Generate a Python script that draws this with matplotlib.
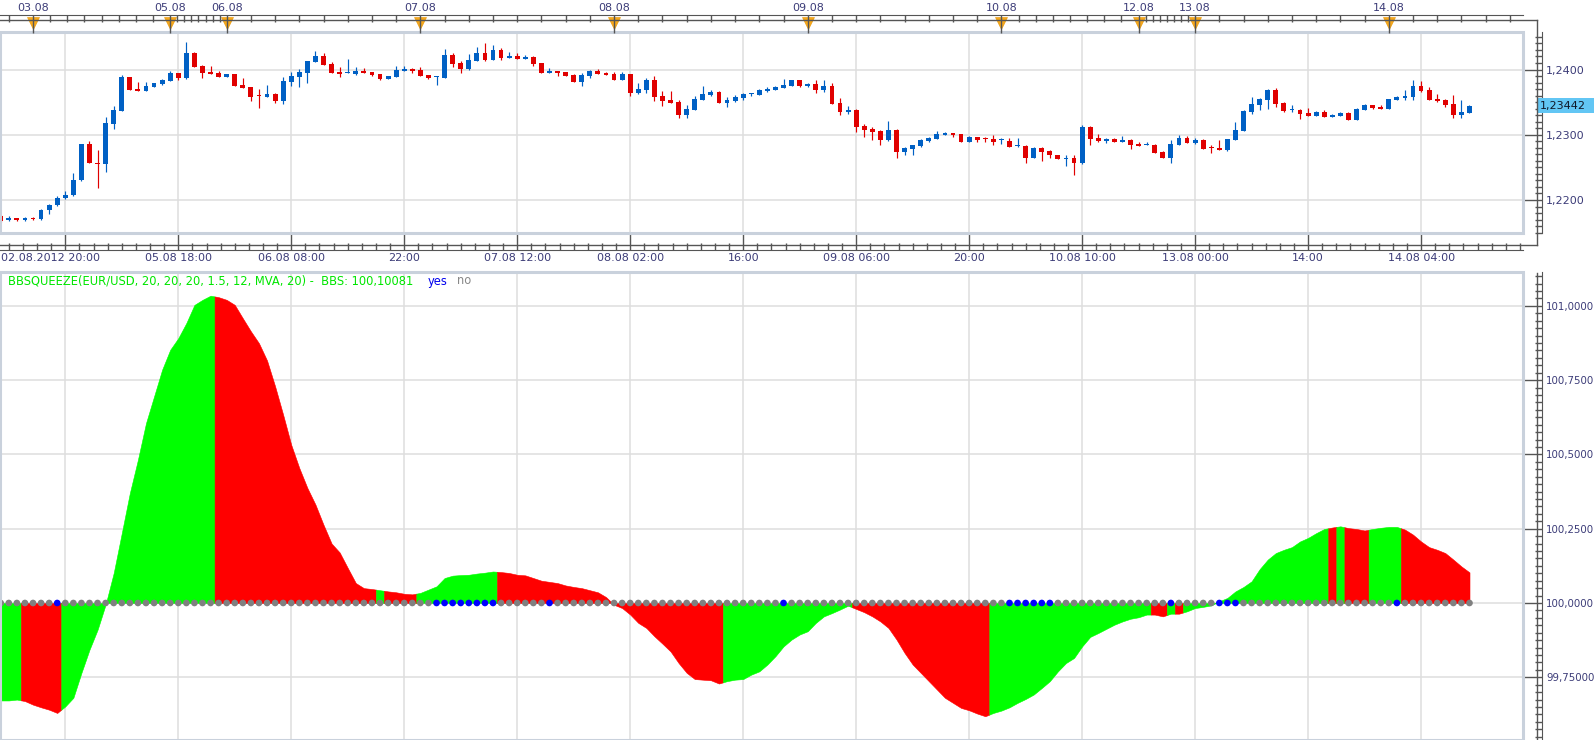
import numpy as np
import matplotlib
matplotlib.use("Agg")
import matplotlib.pyplot as plt
from matplotlib.patches import Rectangle
from matplotlib.lines import Line2D
from matplotlib.transforms import blended_transform_factory
from matplotlib.ticker import FixedLocator, MultipleLocator
from itertools import groupby

plt.rcParams['font.family'] = ['DejaVu Sans']

# ---------------- data ----------------
opens = [1.21754,1.21687,1.21718,1.21687,1.21728,1.21703,1.21841,1.21918,1.22026,1.22072,
1.22303,1.22851,1.22574,1.22549,1.23164,1.23364,1.23882,1.23697,1.23672,1.23733,
1.23779,1.23826,1.23944,1.23872,1.24251,1.24051,1.23959,1.23944,1.23887,1.23928,
1.23759,1.23728,1.23605,1.23579,1.23621,1.23518,1.23810,1.23882,1.23949,1.24118,
1.24205,1.24087,1.23959,1.23949,1.23933,1.23974,1.23959,1.23928,1.23856,1.23887,
1.23979,1.24005,1.23990,1.23913,1.23887,1.23872,1.24221,1.24097,1.24005,1.24133,
1.24251,1.24149,1.24297,1.24179,1.24205,1.24164,1.24190,1.24097,1.23949,1.23974,
1.23959,1.23913,1.23810,1.23903,1.23974,1.23944,1.23928,1.23841,1.23928,1.23641,
1.23687,1.23836,1.23590,1.23528,1.23497,1.23303,1.23379,1.23533,1.23605,1.23651,
1.23487,1.23513,1.23559,1.23626,1.23605,1.23667,1.23682,1.23713,1.23744,1.23836,
1.23744,1.23774,1.23682,1.23744,1.23482,1.23344,1.23374,1.23128,1.23082,1.23051,
1.22913,1.23067,1.22728,1.22774,1.22821,1.22897,1.22928,1.22990,1.23021,1.23005,
1.22882,1.22959,1.22949,1.22928,1.22913,1.22897,1.22821,1.22821,1.22651,1.22790,
1.22744,1.22697,1.22621,1.22651,1.22574,1.23113,1.22944,1.22897,1.22928,1.22882,
1.22913,1.22851,1.22836,1.22836,1.22728,1.22651,1.22836,1.22944,1.22867,1.22913,
1.22810,1.22790,1.22759,1.22913,1.23051,1.23344,1.23451,1.23528,1.23682,1.23482,
1.23374,1.23374,1.23328,1.23282,1.23344,1.23267,1.23282,1.23328,1.23221,1.23374,
1.23451,1.23421,1.23390,1.23528,1.23559,1.23574,1.23744,1.23682,1.23544,1.23528,
1.23467,1.23297,1.23328]

highs = [1.21774,1.21759,1.21728,1.21744,1.21744,1.21867,1.21933,1.22056,1.22144,1.22421,
1.22862,1.22897,1.22759,1.23267,1.23436,1.23913,1.23892,1.23805,1.23805,1.23790,
1.23862,1.23974,1.23949,1.24421,1.24262,1.24072,1.24051,1.23974,1.23928,1.23928,
1.23867,1.23728,1.23697,1.23759,1.23641,1.23887,1.23959,1.24005,1.24128,1.24282,
1.24246,1.24113,1.24036,1.24159,1.24036,1.24021,1.23959,1.23928,1.23897,1.24051,
1.24051,1.24021,1.24036,1.23923,1.23897,1.24313,1.24246,1.24128,1.24236,1.24344,
1.24400,1.24374,1.24328,1.24267,1.24251,1.24221,1.24205,1.24097,1.24021,1.23974,
1.23959,1.23928,1.23944,1.23990,1.24005,1.23959,1.23959,1.23959,1.23928,1.23790,
1.23867,1.23897,1.23667,1.23667,1.23528,1.23451,1.23590,1.23744,1.23682,1.23667,
1.23574,1.23605,1.23636,1.23636,1.23697,1.23728,1.23744,1.23851,1.23836,1.23836,
1.23790,1.23836,1.23836,1.23790,1.23559,1.23436,1.23390,1.23159,1.23113,1.23067,
1.23205,1.23082,1.22805,1.22836,1.22928,1.22959,1.23051,1.23036,1.23021,1.23005,
1.22974,1.22959,1.22959,1.22990,1.22944,1.22944,1.22944,1.22836,1.22805,1.22805,
1.22759,1.22697,1.22682,1.22697,1.23144,1.23128,1.23005,1.22944,1.22944,1.22974,
1.22928,1.22882,1.22882,1.22851,1.22744,1.22913,1.22990,1.22974,1.22944,1.22928,
1.22836,1.22913,1.22928,1.23190,1.23374,1.23574,1.23559,1.23697,1.23713,1.23497,
1.23451,1.23390,1.23405,1.23359,1.23374,1.23313,1.23344,1.23344,1.23405,1.23467,
1.23451,1.23451,1.23544,1.23590,1.23682,1.23836,1.23821,1.23728,1.23621,1.23544,
1.23605,1.23528,1.23451]

lows = [1.21656,1.21672,1.21682,1.21682,1.21692,1.21697,1.21779,1.21903,1.22021,1.22067,
1.22297,1.22564,1.22179,1.22426,1.23082,1.23359,1.23682,1.23667,1.23667,1.23733,
1.23764,1.23821,1.23841,1.23862,1.24036,1.23872,1.23933,1.23882,1.23887,1.23749,
1.23718,1.23518,1.23410,1.23579,1.23487,1.23472,1.23749,1.23733,1.23790,1.24113,
1.24062,1.23949,1.23887,1.23949,1.23918,1.23944,1.23903,1.23841,1.23856,1.23887,
1.23979,1.23949,1.23903,1.23856,1.23764,1.23872,1.24041,1.23949,1.23995,1.24133,
1.24133,1.24149,1.24149,1.24179,1.24159,1.24164,1.24056,1.23949,1.23949,1.23903,
1.23903,1.23810,1.23749,1.23872,1.23933,1.23918,1.23841,1.23841,1.23595,1.23626,
1.23641,1.23518,1.23441,1.23487,1.23256,1.23256,1.23379,1.23533,1.23595,1.23487,
1.23426,1.23497,1.23533,1.23595,1.23605,1.23651,1.23682,1.23713,1.23744,1.23728,
1.23728,1.23636,1.23651,1.23467,1.23297,1.23313,1.23036,1.22959,1.22913,1.22836,
1.22897,1.22636,1.22682,1.22697,1.22805,1.22882,1.22928,1.22990,1.22959,1.22882,
1.22882,1.22882,1.22882,1.22836,1.22851,1.22805,1.22805,1.22574,1.22651,1.22590,
1.22636,1.22621,1.22528,1.22390,1.22559,1.22836,1.22882,1.22867,1.22882,1.22882,
1.22774,1.22821,1.22836,1.22713,1.22651,1.22574,1.22836,1.22867,1.22851,1.22774,
1.22713,1.22759,1.22744,1.22913,1.23051,1.23313,1.23374,1.23390,1.23421,1.23344,
1.23344,1.23236,1.23282,1.23282,1.23267,1.23267,1.23282,1.23221,1.23221,1.23374,
1.23390,1.23390,1.23390,1.23528,1.23528,1.23528,1.23651,1.23528,1.23497,1.23421,
1.23251,1.23251,1.23328]

closes = [1.21682,1.21718,1.21687,1.21728,1.21703,1.21851,1.21928,1.22036,1.22082,1.22313,
1.22851,1.22564,1.22549,1.23174,1.23374,1.23882,1.23687,1.23672,1.23744,1.23790,
1.23836,1.23944,1.23872,1.24251,1.24041,1.23949,1.23933,1.23887,1.23928,1.23749,
1.23718,1.23579,1.23595,1.23621,1.23518,1.23821,1.23897,1.23959,1.24128,1.24205,
1.24067,1.23949,1.23933,1.23959,1.23974,1.23949,1.23918,1.23851,1.23897,1.23990,
1.24005,1.23974,1.23903,1.23872,1.23897,1.24221,1.24087,1.24010,1.24144,1.24251,
1.24149,1.24297,1.24179,1.24205,1.24164,1.24190,1.24087,1.23949,1.23974,1.23949,
1.23903,1.23810,1.23913,1.23974,1.23933,1.23918,1.23841,1.23928,1.23641,1.23697,
1.23836,1.23579,1.23518,1.23487,1.23303,1.23390,1.23544,1.23621,1.23651,1.23487,
1.23533,1.23574,1.23621,1.23636,1.23682,1.23697,1.23728,1.23759,1.23836,1.23744,
1.23774,1.23682,1.23744,1.23467,1.23344,1.23374,1.23113,1.23067,1.23036,1.22913,
1.23067,1.22728,1.22790,1.22836,1.22913,1.22944,1.23005,1.23021,1.22990,1.22882,
1.22959,1.22913,1.22928,1.22882,1.22928,1.22805,1.22836,1.22651,1.22790,1.22728,
1.22682,1.22621,1.22651,1.22574,1.23113,1.22928,1.22897,1.22928,1.22882,1.22913,
1.22836,1.22821,1.22851,1.22713,1.22651,1.22851,1.22944,1.22867,1.22913,1.22774,
1.22795,1.22759,1.22928,1.23067,1.23359,1.23467,1.23544,1.23682,1.23467,1.23359,
1.23390,1.23313,1.23282,1.23344,1.23267,1.23297,1.23328,1.23221,1.23390,1.23451,
1.23405,1.23390,1.23544,1.23574,1.23590,1.23744,1.23667,1.23528,1.23513,1.23451,
1.23297,1.23344,1.23442]

bbs = [99.672,99.672,99.675,99.670,99.658,99.649,99.641,99.630,99.652,99.681,
99.765,99.843,99.910,99.995,100.101,100.235,100.370,100.482,100.605,100.695,
100.785,100.852,100.891,100.942,101.003,101.020,101.034,101.029,101.020,101.003,
100.958,100.914,100.874,100.816,100.729,100.633,100.532,100.454,100.387,100.331,
100.263,100.200,100.170,100.118,100.067,100.050,100.047,100.043,100.039,100.036,
100.031,100.029,100.034,100.045,100.056,100.084,100.092,100.094,100.095,100.099,
100.102,100.106,100.104,100.101,100.095,100.093,100.084,100.075,100.071,100.067,
100.059,100.054,100.050,100.043,100.036,100.020,99.994,99.983,99.961,99.933,
99.916,99.888,99.863,99.837,99.798,99.765,99.744,99.742,99.740,99.729,
99.737,99.742,99.744,99.759,99.770,99.793,99.821,99.854,99.877,99.894,
99.905,99.933,99.955,99.966,99.978,99.991,99.980,99.969,99.955,99.938,
99.916,99.877,99.832,99.793,99.765,99.737,99.709,99.681,99.664,99.647,
99.639,99.628,99.619,99.630,99.638,99.649,99.664,99.677,99.692,99.714,
99.737,99.770,99.798,99.815,99.854,99.886,99.899,99.913,99.927,99.938,
99.947,99.952,99.961,99.961,99.955,99.964,99.964,99.972,99.983,99.987,
99.992,100.006,100.017,100.039,100.054,100.073,100.114,100.146,100.168,100.179,
100.188,100.207,100.219,100.235,100.249,100.254,100.258,100.252,100.249,100.244,
100.249,100.253,100.256,100.256,100.247,100.230,100.207,100.188,100.179,100.168,
100.146,100.123,100.103]

# momentum colour per bar: G = rising (green), R = falling (red)
momentum = ("GGG" "RRRRR" "GGGGGGGGGGGGGGGGGGG" "RRRRRRRRRRRRRRRRRRRR" "G" "RRRR"
            "GGGGGGGGGG" "RRRRRRRRRRRRRRRRRRRRRRRRRRRR" "GGGGGGGGGGGGGGGG"
            "RRRRRRRRRRRRRRRRR" "GGGGGGGGGGGGGGGGGGGG" "RR" "G" "R"
            "GGGGGGGGGGGGGGGGGG" "R" "G" "RRR" "GGGG" "RRRRRRRRR")

# bars where the squeeze is "yes" (blue dot)
squeeze_on = [7, 54, 55, 56, 57, 58, 59, 60, 61, 68, 97,
              125, 126, 127, 128, 129, 130, 145, 151, 152, 153, 173]

time_label_idx = [8, 22, 36, 50, 64, 78, 92, 106, 120, 134, 148, 162, 176]
time_labels = ["02.08.2012 20:00", "05.08 18:00", "06.08 08:00", "22:00",
               "07.08 12:00", "08.08 02:00", "16:00", "09.08 06:00", "20:00",
               "10.08 10:00", "13.08 00:00", "14:00", "14.08 04:00"]
day_idx = [4, 21, 28, 52, 76, 100, 124, 141, 148, 172]
day_labels = ["03.08", "05.08", "06.08", "07.08", "08.08", "09.08",
              "10.08", "12.08", "13.08", "14.08"]

price_ticks = [1.22, 1.23, 1.24]
price_tick_labels = ["1,2200", "1,2300", "1,2400"]
bbs_ticks = [99.75, 100.0, 100.25, 100.5, 100.75, 101.0]
bbs_tick_labels = ["99,75000", "100,0000", "100,2500", "100,5000", "100,7500", "101,0000"]
last_price = 1.23442
last_price_label = "1,23442"
indicator_title = "BBSQUEEZE(EUR/USD, 20, 20, 20, 1.5, 12, MVA, 20) -  BBS: 100,10081"

# ---------------- style ----------------
BLUE = '#0060c4'
RED = '#e00000'
GREEN_FILL = '#00ff00'
RED_FILL = '#ff0000'
GRID = '#dedede'
FRAME = '#c9d1dc'
AXC = '#555555'
LBL = '#3c3c78'
FS = 8

W, H = 1594, 740
fig = plt.figure(figsize=(W / 100, H / 100), dpi=100)
fig.patch.set_facecolor('white')


def rect(x0, y0, x1, y1):
    return [x0 / W, 1 - y1 / H, (x1 - x0) / W, (y1 - y0) / H]


ax = fig.add_axes(rect(0, 32, 1523, 233))
ax2 = fig.add_axes(rect(0, 272, 1523, 740))
ax_top = ax.twiny()

n = len(closes)
x = np.arange(n)
o, h, l, c = (np.array(a) for a in (opens, highs, lows, closes))
col = np.where(c >= o, BLUE, RED)

XL = (-0.09, 188.63)

# ---------------- price panel ----------------
ax.vlines(x, l, h, colors=col, lw=0.85, zorder=3)
ax.bar(x, np.maximum(np.abs(c - o), 0.00009), bottom=np.minimum(o, c), width=0.6,
       color=col, edgecolor='none', zorder=4)

ax.set_xlim(*XL)
ax.set_ylim(1.21494, 1.24575)
ax.set_axisbelow(True)
ax.xaxis.set_major_locator(FixedLocator(time_label_idx))
ax.xaxis.set_minor_locator(FixedLocator(np.arange(8 - 1.75 * 4, 189, 1.75)))
ax.set_xticklabels([])
ax.yaxis.tick_right()
ax.set_yticks(price_ticks)
ax.set_yticklabels(price_tick_labels)
ax.yaxis.set_minor_locator(MultipleLocator(0.001))
ax.grid(True, which='major', color=GRID, lw=1.1)
for s in ['top', 'left']:
    ax.spines[s].set_visible(False)
ax.spines['bottom'].set_position(('outward', 12))
ax.spines['right'].set_position(('outward', 14))
for s in ['bottom', 'right']:
    ax.spines[s].set_color(AXC)
ax.tick_params(axis='x', which='major', direction='in', length=12, width=1, color=AXC,
               bottom=True, top=False, labelbottom=False)
ax.tick_params(axis='x', which='minor', direction='in', length=5, width=1, color=AXC,
               bottom=True, top=False)
ax.tick_params(axis='y', which='major', direction='in', length=13, width=1, color=AXC,
               labelsize=FS, labelcolor=LBL, pad=2.5, left=False, right=True)
ax.tick_params(axis='y', which='minor', direction='in', length=5, width=1, color=AXC,
               left=False, right=True)
ax.add_patch(Rectangle((0, 0), 1, 1, transform=ax.transAxes, fill=False,
                       ec=FRAME, lw=2.2, clip_on=False, zorder=6))

bt = blended_transform_factory(ax.transData, ax.transAxes)
for k, (xi, lab) in enumerate(zip(time_label_idx, time_labels)):
    dx = -10.8 if k == 0 else 0
    ax.annotate(lab, xy=(xi, -0.126), xycoords=bt, xytext=(dx, 0),
                textcoords='offset points', ha='center', va='center',
                fontsize=FS, color=LBL, annotation_clip=False)

# top date axis
ax_top.set_xlim(*XL)
minor_top = [1]
for a, b in zip(day_idx[:-1], day_idx[1:]):
    minor_top += list(np.linspace(a, b, 9)[1:-1])
minor_top += list(np.arange(175, 189, 3))
ax_top.xaxis.set_major_locator(FixedLocator(day_idx))
ax_top.xaxis.set_minor_locator(FixedLocator(minor_top))
ax_top.set_xticklabels([])
for s in ['bottom', 'left', 'right']:
    ax_top.spines[s].set_visible(False)
ax_top.spines['top'].set_position(('outward', 12))
ax_top.spines['top'].set_color(AXC)
ax_top.tick_params(axis='x', which='major', direction='in', length=13, width=1, color=AXC,
                   top=True, bottom=False, labeltop=False)
ax_top.tick_params(axis='x', which='minor', direction='in', length=5, width=1, color=AXC,
                   top=True, bottom=False)
for xi, lab in zip(day_idx, day_labels):
    ax.annotate(lab, xy=(xi, 1.117), xycoords=bt, ha='center', va='center',
                fontsize=FS, color=LBL, annotation_clip=False)
ax.plot(day_idx, [1.047] * len(day_idx), transform=bt, ls='none', marker='v',
        ms=8, color='#f7a81b', mec='#e89400', mew=0.4, clip_on=False, zorder=8)

# last-price tag
pt = blended_transform_factory(ax.transAxes, ax.transData)
tag_h = 15 / 6525
ax.add_patch(Rectangle((1538 / 1523, last_price - tag_h / 2), 56 / 1523, tag_h,
                       transform=pt, fc='#62c6f4', ec='none', clip_on=False, zorder=9))
ax.text(1540 / 1523, last_price, last_price_label, transform=pt, ha='left', va='center',
        fontsize=FS, color='#101828', zorder=10, clip_on=False)

# axis line extensions
for (x0, y0, x1, y1) in [(0, 20, 1537, 20), (0, 245, 1537, 245), (1537, 20, 1537, 245),
                         (1537, 273, 1537, 740)]:
    fig.add_artist(Line2D([x0 / W, x1 / W], [1 - y0 / H, 1 - y1 / H],
                          transform=fig.transFigure, color=AXC, lw=1))

# ---------------- indicator panel ----------------
vals = np.array(bbs)
fill_col = {'G': GREEN_FILL, 'R': RED_FILL}
start = 0
for key, grp in groupby(momentum):
    length = len(list(grp))
    a, b = start, start + length - 1
    xs = [a - 0.5]
    ys = [(vals[a - 1] + vals[a]) / 2 if a > 0 else vals[a]]
    for i in range(a, b + 1):
        xs.append(i)
        ys.append(vals[i])
        if i < n - 1:
            xs.append(i + 0.5)
            ys.append((vals[i] + vals[i + 1]) / 2)
    ax2.fill_between(xs, 100, ys, color=fill_col[key], lw=0.4, zorder=2)
    start += length

dot_cols = ['#0000ff' if i in squeeze_on else '#808080' for i in range(n)]
ax2.scatter(x, np.full(n, 100.0), s=23, c=dot_cols, edgecolors='none', zorder=4,
            clip_on=False)

ax2.set_xlim(*XL)
ax2.set_ylim(99.539, 101.1137)
ax2.set_axisbelow(True)
ax2.xaxis.set_major_locator(FixedLocator(time_label_idx))
ax2.tick_params(axis='x', length=0, labelbottom=False)
ax2.yaxis.tick_right()
ax2.set_yticks(bbs_ticks)
ax2.set_yticklabels(bbs_tick_labels)
ax2.yaxis.set_minor_locator(MultipleLocator(0.025))
ax2.grid(True, which='major', color=GRID, lw=1.1)
for s in ['top', 'left', 'bottom']:
    ax2.spines[s].set_visible(False)
ax2.spines['right'].set_position(('outward', 14))
ax2.spines['right'].set_color(AXC)
ax2.tick_params(axis='y', which='major', direction='in', length=14, width=1, color=AXC,
                labelsize=7.4, labelcolor=LBL, pad=2.5, left=False, right=True)
ax2.tick_params(axis='y', which='minor', direction='in', length=5, width=1, color=AXC,
                left=False, right=True)
ax2.add_patch(Rectangle((0, 0), 1, 1, transform=ax2.transAxes, fill=False,
                        ec=FRAME, lw=2.2, clip_on=False, zorder=6))

fig.text(8 / W, 1 - 281 / H, indicator_title, fontsize=8.3, color='#00e600',
         ha='left', va='center')
fig.text(428 / W, 1 - 281 / H, "yes", fontsize=8.3, color='#0000ee', ha='left', va='center')
fig.text(457 / W, 1 - 281 / H, "no", fontsize=8.3, color='#888888', ha='left', va='center')

fig.savefig("out.png", dpi=100, facecolor='white')
